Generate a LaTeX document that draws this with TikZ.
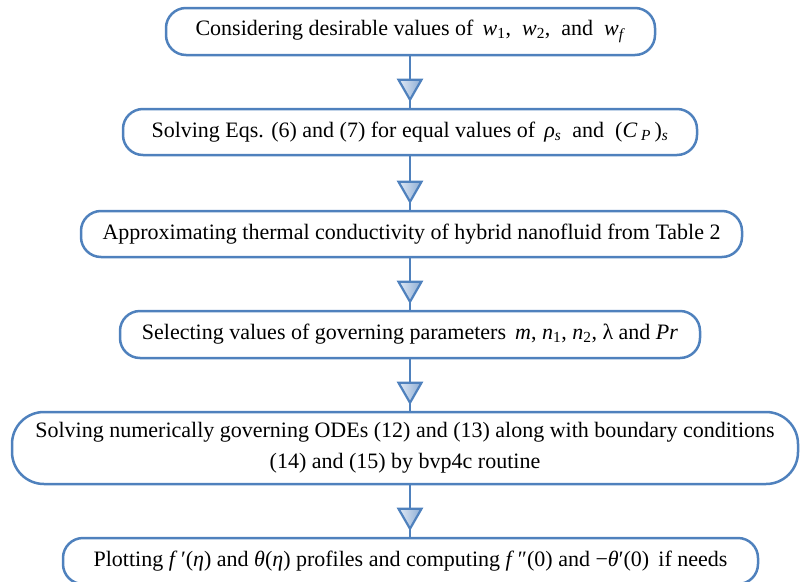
\documentclass[tikz,border=0pt]{standalone}
\usepackage{fontspec}
\setmainfont{Liberation Serif}
\usetikzlibrary{calc}
\definecolor{bl}{RGB}{79,129,189}
\definecolor{trilight}{RGB}{225,234,245}
\definecolor{tridark}{RGB}{140,172,212}
\newcommand{\vi}[1]{\textit{#1}}
\newcommand{\sbs}[1]{\textsubscript{#1}}
\begin{document}
\begin{tikzpicture}[x=1pt,y=-1pt,
  stepbox/.style={draw=bl, line width=2.5pt, rounded corners=20pt, inner sep=0pt, align=center, font=\fontsize{22}{31}\selectfont},
  conn/.style={draw=bl, line width=2.5pt},
  tri/.style={draw=bl, line width=2.2pt, line join=miter, left color=trilight, right color=tridark}]
\useasboundingbox (0,0) rectangle (800,581);
\coordinate (ax) at (410,0);
\node[stepbox, minimum width=489pt, minimum height=47pt] (b1) at (410.5,31.5)
  {Considering desirable values of\, \vi{w}\sbs{1},\ \ \vi{w}\sbs{2},\ \ and\ \ \vi{w}\sbs{\vi{f}}};
\node[stepbox, minimum width=574pt, minimum height=46pt] (b2) at (410,132)
  {Solving Eqs. (6) and (7) for equal values of\, \vi{ρ}\sbs{\vi{s}}\ \ and\ \ (\vi{C}\,\sbs{\vi{P}}\,)\sbs{\vi{s}}};
\node[stepbox, minimum width=661pt, minimum height=46pt] (b3) at (411.5,234)
  {Approximating thermal conductivity of hybrid nanofluid from Table 2};
\node[stepbox, minimum width=580pt, minimum height=47pt] (b4) at (410,334.5)
  {Selecting values of governing parameters\, \vi{m}, \vi{n}\sbs{1}, \vi{n}\sbs{2}, λ and \vi{Pr}};
\node[stepbox, rounded corners=32pt, minimum width=786pt, minimum height=72pt] (b5) at (405,448)
  {Solving numerically governing ODEs (12) and (13) along with boundary conditions\\(14) and (15) by bvp4c routine};
\node[stepbox, minimum width=695pt, minimum height=46pt] (b6) at (410.5,561)
  {Plotting \vi{f}\,′(\vi{η}) and \vi{θ}(\vi{η}) profiles and computing \vi{f}\,″(0) and −\vi{θ}′(0)\, if needs};
\foreach \a/\b in {b1/b2,b2/b3,b3/b4,b4/b5,b5/b6}{
  \draw[conn] (\a.south -| ax) -- (\b.north -| ax);
  \filldraw[tri] ($(\b.north -| ax)+(0,-8)$) -- ++(-11.5,-20) -- ++(23,0) -- cycle;
}
\end{tikzpicture}
\end{document}
